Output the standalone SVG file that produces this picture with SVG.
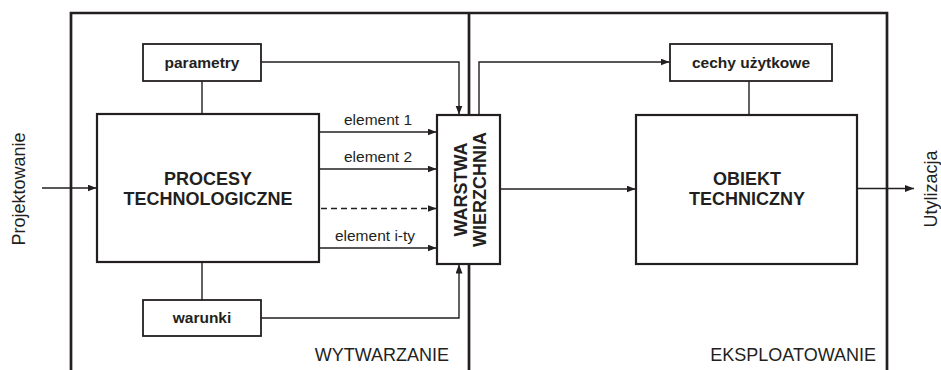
<svg xmlns="http://www.w3.org/2000/svg" width="941" height="370" viewBox="0 0 941 370">
<defs>
<style>
text{font-family:"Liberation Sans",Arial,sans-serif;fill:#231f20}
.b{font-weight:bold}
.big{font-size:18px}
.sm{font-size:15.5px}
.frame{fill:none;stroke:#231f20;stroke-width:2.7}
.box{fill:#fff;stroke:#231f20;stroke-width:2.2}
.sbox{fill:#fff;stroke:#231f20;stroke-width:1.8}
.con{fill:none;stroke:#231f20;stroke-width:1.4}
.arr{fill:none;stroke:#231f20;stroke-width:1.4;marker-end:url(#ah)}
.dash{stroke-dasharray:6 4}
</style>
<marker id="ah" markerUnits="userSpaceOnUse" markerWidth="10" markerHeight="8" refX="9" refY="3.5" orient="auto">
<path d="M0,0 L9,3.5 L0,7 z" fill="#231f20"/>
</marker>
</defs>
<rect width="941" height="370" fill="#fff"/>
<g id="frame">
<path class="frame" d="M71,370 V13 H887 V370 M469,13 V370"/>
<text class="big" x="449" y="361" text-anchor="end">WYTWARZANIE</text>
<text class="big" x="876" y="361" text-anchor="end">EKSPLOATOWANIE</text>
<text class="big" transform="translate(24.5,189) rotate(-90)" text-anchor="middle">Projektowanie</text>
<text class="big" transform="translate(936.5,189) rotate(-90)" text-anchor="middle">Utylizacja</text>
</g>
<g id="connectors">
<path class="con" d="M202,81 V114 M202,262 V300 M749,81 V115"/>
<path class="arr" d="M261,62 H459 V114.5"/>
<path class="arr" d="M261,318 H459 V264.5"/>
<path class="arr" d="M479,115 V62 H669.5"/>
<path class="arr" d="M320,132 H436.5"/>
<path class="arr" d="M320,169 H436.5"/>
<path class="arr dash" d="M321,208.5 H436.5"/>
<path class="arr" d="M320,248 H436.5"/>
<path class="arr" d="M501,189 H635.5"/>
<path class="arr" d="M42,188 H96.5"/>
<path class="arr" d="M858,188.5 H914"/>
<text class="sm" x="378" y="125" text-anchor="middle">element 1</text>
<text class="sm" x="378" y="162" text-anchor="middle">element 2</text>
<text class="sm" x="375" y="241" text-anchor="middle">element i-ty</text>
</g>
<g id="parametry">
<rect class="sbox" x="143" y="44" width="118" height="37"/>
<text class="b sm" x="202" y="67.5" text-anchor="middle">parametry</text>
</g>
<g id="warunki">
<rect class="sbox" x="143" y="300" width="118" height="36"/>
<text class="b sm" x="202" y="323" text-anchor="middle">warunki</text>
</g>
<g id="procesy">
<rect class="box" x="97" y="114" width="222" height="148"/>
<text class="b big" x="208" y="185" text-anchor="middle">PROCESY</text>
<text class="b big" x="208" y="205" text-anchor="middle">TECHNOLOGICZNE</text>
</g>
<g id="warstwa">
<rect class="box" x="437" y="115" width="63" height="149"/>
<text class="b big" transform="translate(467,189.5) rotate(-90)" text-anchor="middle">WARSTWA</text>
<text class="b big" transform="translate(486,189.5) rotate(-90)" text-anchor="middle">WIERZCHNIA</text>
</g>
<g id="cechy">
<rect class="sbox" x="670" y="44" width="162" height="37"/>
<text class="b sm" x="751" y="67.5" text-anchor="middle">cechy użytkowe</text>
</g>
<g id="obiekt">
<rect class="box" x="636" y="115" width="221" height="149"/>
<text class="b big" x="747" y="185" text-anchor="middle">OBIEKT</text>
<text class="b big" x="747" y="205" text-anchor="middle">TECHNICZNY</text>
</g>
</svg>
